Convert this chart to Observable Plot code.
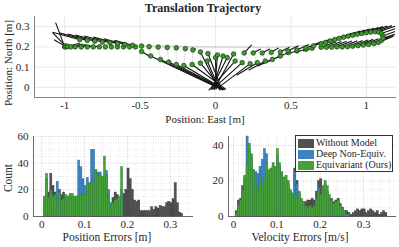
<!DOCTYPE html>
<html><head><meta charset="utf-8">
<script src="https://cdn.jsdelivr.net/npm/d3@7"></script>
<script src="https://cdn.jsdelivr.net/npm/@observablehq/plot@0.6"></script>
<style>
body{margin:0;background:#fff;}
#wrap, #wrap *, #wrap svg text{font-family:"Liberation Serif","Times New Roman","DejaVu Serif",serif !important;}
#wrap{position:relative;width:399px;height:247px;overflow:hidden;color:#262626;}
.abs{position:absolute;}
.lab{position:absolute;font-size:11px;white-space:nowrap;line-height:1;}
.rot{transform:translate(-50%,-50%) rotate(-90deg);}
.ctr{transform:translate(-50%,-50%);}
.leg{position:absolute;left:295px;top:135px;width:98px;height:37px;border:0.8px solid #333;background:#fff;box-sizing:border-box;}
.li{position:absolute;left:2px;height:10px;font-size:10px;line-height:10px;white-space:nowrap;}
.sw{display:inline-block;width:16px;height:9px;vertical-align:top;margin-right:2px;margin-top:0.5px;}
</style></head><body><div id="wrap"></div>
<script>
// ---------- Top: trajectory (East, North, tipEast, tipNorth) ----------
const leftLow = [
  [-1.00,0.200,-1.06,0.320],[-0.995,0.205,-1.08,0.270],[-0.99,0.200,-1.07,0.235],
  [-0.98,0.203,-0.90,0.218],[-0.96,0.200,-0.88,0.214],[-0.93,0.200,-0.86,0.211],
  [-0.89,0.200,-0.83,0.208],[-0.85,0.200,-0.80,0.205],[-0.81,0.200,-0.78,0.203],
  [-0.77,0.200,-0.77,0.200],[-0.73,0.200,-0.73,0.200],[-0.69,0.200,-0.69,0.200],
  [-0.65,0.200,-0.65,0.200],[-0.61,0.200,-0.61,0.200],[-0.57,0.200,-0.57,0.200],
  [-0.53,0.200,-0.53,0.200]
];
const leftUp = [
  [-0.90,0.235,-1.08,0.272],[-0.85,0.232,-1.03,0.268],[-0.80,0.228,-0.98,0.264],
  [-0.75,0.224,-0.93,0.259],[-0.70,0.220,-0.87,0.254],[-0.65,0.216,-0.81,0.248],
  [-0.60,0.212,-0.74,0.240],[-0.55,0.208,-0.67,0.232]
];
const midUp = [
  [-0.49,0.204,-0.49,0.204],[-0.44,0.201,-0.44,0.201],[-0.38,0.199,-0.38,0.199],
  [-0.32,0.197,-0.32,0.197],[-0.26,0.195,-0.26,0.195],[-0.20,0.191,-0.20,0.191],
  [-0.15,0.185,-0.13,0.190],[-0.10,0.175,0.02,-0.005],[-0.05,0.167,0.04,-0.008]
];
const midLow = [
  [-0.49,0.177,-0.43,0.150],[-0.43,0.155,0.04,-0.010],[-0.365,0.138,0.05,-0.010],
  [-0.31,0.125,0.05,-0.012],[-0.26,0.113,0.06,-0.010],[-0.21,0.108,0.06,-0.012],
  [-0.155,0.113,0.07,-0.010],[-0.10,0.120,0.05,-0.015],[-0.055,0.130,0.03,-0.015],
  [0.00,0.147,0.005,-0.010],[0.013,0.160,-0.005,-0.010],[0.05,0.155,-0.02,-0.010],
  [0.078,0.147,-0.03,-0.012],[0.13,0.130,-0.045,-0.015]
];
const rightLow = [
  [0.177,0.122,-0.02,-0.010],[0.23,0.117,0.02,0.000],[0.277,0.122,0.14,0.060],
  [0.33,0.130,0.22,0.085],[0.377,0.138,0.28,0.105],[0.43,0.155,0.34,0.125],
  [0.485,0.172,0.40,0.145],[0.54,0.180,0.47,0.165],[0.60,0.188,0.53,0.173],
  [0.64,0.193,0.58,0.180],[0.70,0.198,0.80,0.225],[0.735,0.198,0.835,0.226],
  [0.77,0.199,0.87,0.228],[0.805,0.200,0.905,0.229],[0.84,0.200,0.94,0.230],
  [0.875,0.201,0.975,0.232],[0.91,0.203,1.01,0.234],[0.945,0.206,1.045,0.237],
  [0.98,0.209,1.08,0.240],[1.015,0.212,1.115,0.243],[1.05,0.216,1.15,0.247],
  [1.08,0.222,1.18,0.252],[1.10,0.232,1.19,0.262]
];
const rightUp = [
  [0.12,0.165,-0.01,-0.012],[0.19,0.170,0.24,0.210],[0.25,0.170,0.30,0.190],
  [0.31,0.170,0.36,0.190],[0.37,0.173,0.42,0.195],[0.43,0.175,0.49,0.198],
  [0.48,0.180,0.55,0.205],[0.54,0.185,0.62,0.212],[0.60,0.195,0.70,0.225],
  [0.65,0.205,0.76,0.237],[0.70,0.215,0.81,0.245],[0.73,0.222,0.84,0.252],
  [0.76,0.229,0.87,0.259],[0.79,0.236,0.90,0.266],[0.82,0.242,0.93,0.272],
  [0.85,0.248,0.96,0.278],[0.88,0.253,0.99,0.283],[0.91,0.258,1.02,0.288],
  [0.94,0.262,1.05,0.292],[0.97,0.266,1.08,0.296],[1.00,0.270,1.11,0.300],
  [1.03,0.273,1.14,0.303],[1.06,0.275,1.17,0.305],[1.08,0.274,1.19,0.302],
  [1.10,0.266,1.19,0.290],[1.11,0.254,1.19,0.276],[1.11,0.242,1.18,0.260]
];
const refPath = [[-0.50,0.205],[-0.30,0.204],[-0.10,0.200],[0.10,0.199],[0.30,0.198],[0.45,0.199],[0.60,0.207]];
const eastTicks = [-1, -0.5, 0, 0.5, 1];
const northTicks = [0, 0.1, 0.2, 0.3];

// ---------- Bottom: histograms ----------
const posEdges = [0,0.005,0.01,0.015,0.02,0.025,0.03,0.035,0.04,0.045,0.05,0.055,0.06,0.065,0.07,0.075,0.08,0.085,0.09,0.095,0.1,0.105,0.11,0.115,0.12,0.125,0.13,0.135,0.14,0.145,0.15,0.155,0.16,0.165,0.17,0.175,0.18,0.185,0.19,0.195,0.2,0.205,0.21,0.215,0.22,0.225,0.23,0.235,0.24,0.245,0.25,0.255,0.26,0.265,0.27,0.275,0.28,0.285,0.29,0.295,0.3,0.305,0.31,0.315,0.32,0.325,0.33,0.335];
const posWithout = [0,10,14,18,32,23,18,15,20,16, 18,13,12,14,13,12,11,12,13,12, 14,15,16,18,20,22,21,20,22,25, 20,14,9,14,18,16,12,15,17,20, 36,28,20,12,11,12,4,4,4,4, 4,7,5,7,6,8,7,7,10,11, 10,13,25,10,3,2,0,0];
const posDeep = [0,13,28,12,16,13,14,26,18,10, 11,14,13,15,15,14,13,42,37,28, 23,29,25,50,50,34,33,33,28,30, 34,20,10,9,10,12,11,20,0,0, 0,0,0,0,0,0,0,0,0,0, 0,0,0,0,0,0,0,0,0,0, 0,0,0,0,0,0,0,0];
const posEquiv = [0,15,32,14,19,15,16,8,17,12, 13,16,15,17,17,15,15,15,16,16, 16,24,22,26,25,35,30,30,30,45, 31,15,8,10,12,13,15,37,0,0, 0,0,0,0,0,0,0,0,0,0, 0,0,0,0,0,0,0,0,0,0, 0,0,0,0,0,0,0,0];

const velEdges = [0,0.005,0.01,0.015,0.02,0.025,0.03,0.035,0.04,0.045,0.05,0.055,0.06,0.065,0.07,0.075,0.08,0.085,0.09,0.095,0.1,0.105,0.11,0.115,0.12,0.125,0.13,0.135,0.14,0.145,0.15,0.155,0.16,0.165,0.17,0.175,0.18,0.185,0.19,0.195,0.2,0.205,0.21,0.215,0.22,0.225,0.23,0.235,0.24,0.245,0.25,0.255,0.26,0.265,0.27,0.275,0.28,0.285,0.29,0.295,0.3,0.305,0.31,0.315,0.32,0.325,0.33,0.335,0.34,0.345,0.35];
const velWithout = [0,3,9,10,17,22,20,25,22,18, 14,13,16,14,18,20,20,22,24,22, 28,24,20,18,17,16,13,11,27,20, 12,9,8,8,9,9,10,9,14,20, 21,15,15,12,10,10,8,9,10,7, 5,3,3,2,1,2,3,4,3,4, 4,2,3,4,3,2,3,1,2,3,2];
const velDeep = [0,1,5,8,13,20,45,38,33,26, 25,24,28,32,38,35,22,25,28,27, 34,28,24,21,20,18,14,12,25,18, 13,8,7,5,4,5,4,5,10,16, 12,17,18,14,10,8,6,7,8,5, 3,3,1,1,0,0,0,0,0,0, 0,0,0,0,0,0,0,0,0,0,0];
const velEquiv = [0,1.5,6,9,15,23,29,41,35,26, 17,15,21,17,22,30,26,27,30,28, 38,30,25,22,23,20,15,13,12,10, 14,10,8,6,5,6,5,6,9,14, 12,16,20,17,12,9,7,8,9,6, 4,2,1,0,0,0,0,0,0,0, 0,0,0,0,0,0,0,0,0,0,0];
const binWidth = 0.005;

const posTicks = [0, 0.1, 0.2, 0.3];
const posMinor = [0.02,0.04,0.06,0.08,0.12,0.14,0.16,0.18,0.22,0.24,0.26,0.28,0.32,0.34];
const posCountTicks = [0, 20, 40, 60];
const posCountMinor = [5,10,15,25,30,35,45,50,55];
const velTicks = [0, 0.1, 0.2, 0.3];
const velMinor = [0.02,0.04,0.06,0.08,0.12,0.14,0.16,0.18,0.22,0.24,0.26,0.28,0.32,0.34,0.36];
const velCountTicks = [0, 20, 40];
const velCountMinor = [5,10,15,25,30,35];

const seriesNames = ["Without Model", "Deep Non-Equiv.", "Equivariant (Ours)"];
const seriesColors = ["#505050", "#3b84c1", "#45a23a"];
const seriesEdge = ["#3a3a3a", "#2d6a9c", "#347f2b"];

// ---------- build ----------
const wrap = document.getElementById("wrap");
const FONT = "Liberation Serif, Times New Roman, DejaVu Serif, serif";
const font = {fontFamily: FONT, fontSize: "11px", background: "transparent", color: "#262626", overflow: "visible"};
const fmt = d => String(d);

const pts = [...leftLow, ...leftUp, ...midUp, ...midLow, ...rightLow, ...rightUp]
  .map(([e, n, te, tn]) => ({e, n, te, tn}));
const connectors = [];
midUp.forEach((p, i) => { const q = midLow[i]; if (q) connectors.push({x1: p[0], y1: p[1], x2: q[0], y2: q[1]}); });
rightUp.slice(0, 9).forEach((p, i) => { const q = rightLow[i]; if (q) connectors.push({x1: p[0], y1: p[1], x2: q[0], y2: q[1]}); });
const ref = refPath.map(([e, n]) => ({e, n}));
midUp.concat(rightUp.slice(1, 8)).forEach(p => {
  connectors.push({x1: p[0], y1: p[1], x2: p[0] + 0.04, y2: 0.2});
});

const topPlot = Plot.plot({
  width: 399, height: 125,
  marginLeft: 34, marginRight: 3, marginTop: 16, marginBottom: 28,
  x: {domain: [-1.2, 1.2]},
  y: {domain: [-0.05, 0.35]},
  style: font,
  marks: [
    Plot.gridX(eastTicks, {stroke: "#e3e3e3", strokeOpacity: 1, strokeWidth: 0.8}),
    Plot.gridY(northTicks, {stroke: "#e3e3e3", strokeOpacity: 1, strokeWidth: 0.8}),
    Plot.link(connectors, {x1: "x1", y1: "y1", x2: "x2", y2: "y2", stroke: "#c4c4c4", strokeWidth: 0.5}),
    Plot.line(ref, {x: "e", y: "n", stroke: "#aaaaaa", strokeWidth: 0.8, strokeDasharray: "1,1.5"}),
    Plot.link(pts, {x1: "e", y1: "n", x2: "te", y2: "tn", stroke: "#111", strokeWidth: 1.1}),
    Plot.dot(pts, {x: "e", y: "n", r: 2.3, fill: "#3d9a2d", stroke: "#1b3a12", strokeWidth: 0.7}),
    Plot.ruleX([-1.2], {stroke: "#666", strokeWidth: 0.8}),
    Plot.ruleY([-0.05], {stroke: "#666", strokeWidth: 0.8}),
    Plot.axisX(eastTicks, {tickSize: 0, tickPadding: 4, tickFormat: fmt, label: null, fontFamily: FONT}),
    Plot.axisY(northTicks, {tickSize: 0, tickPadding: 5, tickFormat: fmt, label: null, fontFamily: FONT})
  ]
});
topPlot.classList.add("abs"); topPlot.style.left = "0px"; topPlot.style.top = "0px";
wrap.appendChild(topPlot);

function hist(edges, arrs, opts) {
  const layers = arrs.map((vals, s) => vals.map((v, i) => ({x1: edges[i], x2: edges[i] + binWidth, y: v, s})));
  return Plot.plot({
    width: opts.width, height: 122,
    marginLeft: opts.ml, marginRight: opts.mr, marginTop: 11, marginBottom: 31,
    x: {domain: opts.xd},
    y: {domain: opts.yd},
    style: font,
    marks: [
      Plot.gridX(opts.xMinor, {stroke: "#d6d6d6", strokeOpacity: 1, strokeWidth: 0.6, strokeDasharray: "1,1.5"}),
      Plot.gridY(opts.yMinor, {stroke: "#d6d6d6", strokeOpacity: 1, strokeWidth: 0.6, strokeDasharray: "1,1.5"}),
      Plot.gridX(opts.xTicks, {stroke: "#bdbdbd", strokeOpacity: 1, strokeWidth: 0.7, strokeDasharray: "1,1.5"}),
      Plot.gridY(opts.yTicks, {stroke: "#bdbdbd", strokeOpacity: 1, strokeWidth: 0.7, strokeDasharray: "1,1.5"}),
      ...layers.map((L, s) => Plot.rectY(L.filter(d => d.y > 0), {x1: "x1", x2: "x2", y: "y", fill: seriesColors[s], stroke: seriesEdge[s], strokeWidth: 0.4})),
      Plot.ruleX([opts.xd[0]], {stroke: "#444", strokeWidth: 0.8}),
      Plot.ruleY([0], {stroke: "#444", strokeWidth: 0.8}),
      Plot.axisX(opts.xTicks, {tickSize: 0, tickPadding: 4, tickFormat: fmt, label: null, fontFamily: FONT}),
      Plot.axisY(opts.yTicks, {tickSize: 0, tickPadding: 5, tickFormat: fmt, label: null, fontFamily: FONT})
    ]
  });
}

const h1 = hist(posEdges, [posWithout, posDeep, posEquiv], {
  width: 200, ml: 33, mr: 7, xd: [-0.019, 0.354], yd: [0, 60],
  xTicks: posTicks, xMinor: posMinor, yTicks: posCountTicks, yMinor: posCountMinor
});
h1.classList.add("abs"); h1.style.left = "0px"; h1.style.top = "125px";
wrap.appendChild(h1);

const h2 = hist(velEdges, [velWithout, velDeep, velEquiv], {
  width: 199, ml: 28, mr: 3, xd: [-0.0115, 0.376], yd: [0, 45],
  xTicks: velTicks, xMinor: velMinor, yTicks: velCountTicks, yMinor: velCountMinor
});
h2.classList.add("abs"); h2.style.left = "200px"; h2.style.top = "125px";
wrap.appendChild(h2);

// ---------- texts ----------
function label(txt, x, y, cls, extra) {
  const d = document.createElement("div");
  d.className = "lab " + cls;
  d.textContent = txt;
  d.style.left = x + "px"; d.style.top = y + "px";
  if (extra) Object.assign(d.style, extra);
  wrap.appendChild(d);
}
label("Translation Trajectory", 203, 8, "ctr", {fontWeight: "bold", fontSize: "12px"});
label("Position: East [m]", 205, 119, "ctr");
label("Position: North [m]", 8, 63, "rot");
label("Count", 9, 178, "rot", {fontSize: "11.5px"});
label("Position Errors [m]", 107, 238, "ctr", {fontSize: "11.5px"});
label("Velocity Errors [m/s]", 300, 238, "ctr", {fontSize: "11.5px"});

const leg = document.createElement("div");
leg.className = "leg";
seriesNames.forEach((name, i) => {
  const row = document.createElement("div");
  row.className = "li";
  row.style.top = (2 + i * 11) + "px";
  const sw = document.createElement("span");
  sw.className = "sw"; sw.style.background = seriesColors[i];
  row.appendChild(sw);
  row.appendChild(document.createTextNode(name));
  leg.appendChild(row);
});
wrap.appendChild(leg);
</script></body></html>
